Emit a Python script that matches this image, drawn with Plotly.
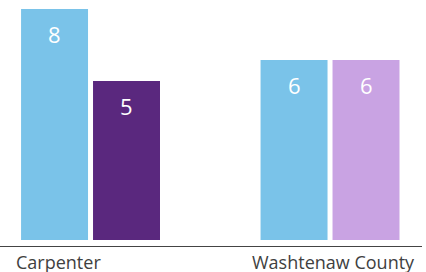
import plotly.graph_objects as go

categories = ["Carpenter", "Washtenaw County"]
series1_values = [7.7, 6.0]
series2_values = [5.3, 6.0]
series1_color = "#7AC3E9"
series2_colors = ["#5A287E", "#C9A3E3"]
label_shifts = [-32, 3]

fig = go.Figure()
fig.add_trace(go.Bar(x=categories, y=series1_values, marker=dict(color=series1_color, line=dict(width=0))))
fig.add_trace(go.Bar(x=categories, y=series2_values, marker=dict(color=series2_colors, line=dict(width=0))))

annotations = []
for i, c in enumerate(categories):
    for j, vals in enumerate([series1_values, series2_values]):
        annotations.append(dict(
            x=c, y=vals[i], xref="x", yref="y", text=f"{vals[i]:.0f}",
            showarrow=False, yanchor="middle", yshift=-25,
            xshift=(-36 if j == 0 else 36),
            font=dict(family="Open Sans", size=22, color="white")))
    annotations.append(dict(
        x=c, y=0, xref="x", yref="paper", text=c, showarrow=False,
        yanchor="top", xanchor="center", xshift=label_shifts[i], yshift=-2,
        font=dict(family="Open Sans", size=18, color="#404040")))

fig.update_layout(
    width=426, height=272,
    margin=dict(l=0, r=4, t=0, b=26),
    paper_bgcolor="white", plot_bgcolor="white",
    barmode="group", bargap=0.399, bargroupgap=0.0694,
    showlegend=False,
    annotations=annotations,
    xaxis=dict(range=[-0.378, 1.384], showline=True, linecolor="#444444", linewidth=1,
               showticklabels=False, ticks="", showgrid=False, zeroline=False),
    yaxis=dict(range=[-0.2, 8.0], visible=False, showgrid=False, zeroline=False),
)

fig.write_html("out.html", config={"displayModeBar": False},
               post_script="document.body.style.margin='0';")
